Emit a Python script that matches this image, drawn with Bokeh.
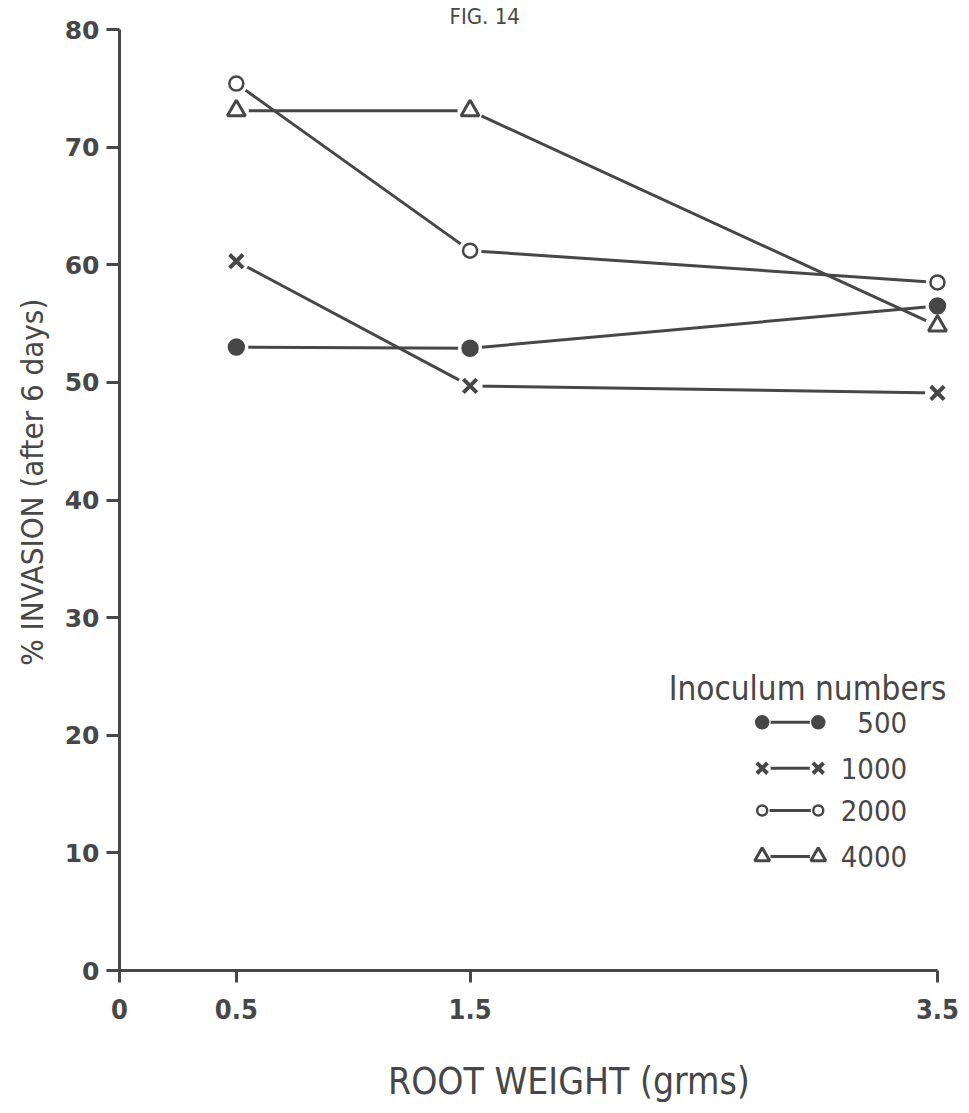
from bokeh.plotting import figure
from bokeh.models import Range1d, FixedTicker, Label, Title, LinearAxis
from bokeh.embed import file_html
from bokeh.resources import INLINE

# Root weight (grms) at which invasion was measured
root_weight = [0.5, 1.5, 3.5]

# % invasion after 6 days for each inoculum number
inv_500 = [53.0, 52.9, 56.5]
inv_1000 = [60.3, 49.7, 49.1]
inv_2000 = [75.4, 61.2, 58.5]
inv_4000 = [73.1, 73.1, 54.8]

inoculum_labels = ["500", "1000", "2000", "4000"]
y_ticks = [0, 10, 20, 30, 40, 50, 60, 70, 80]
x_ticks = [0, 0.5, 1.5, 3.5]
x_tick_labels = {0: "0", 0.5: "0.5", 1.5: "1.5", 3.5: "3.5"}

INK = "#474747"
FONT = "DejaVu Sans Condensed"
NBSP = "\u00a0"  # non-collapsing space, nudges centred axis titles

p = figure(width=969, height=1113, output_backend="svg", toolbar_location=None,
           x_range=Range1d(0, 3.62), y_range=Range1d(0, 80),
           min_border_left=119, min_border_right=4,
           min_border_top=29, min_border_bottom=143)
p.outline_line_color = None
p.xgrid.visible = False
p.ygrid.visible = False
p.background_fill_color = "white"

# axes
for ax in (p.xaxis[0], p.yaxis[0]):
    ax.axis_line_color = INK
    ax.axis_line_width = 3
    ax.major_tick_line_color = INK
    ax.major_tick_line_width = 3
    ax.major_tick_in = 0
    ax.minor_tick_line_color = None
    ax.major_label_text_color = INK

p.yaxis.ticker = FixedTicker(ticks=y_ticks)
p.yaxis.major_tick_out = 13
p.yaxis.major_label_text_font = "DejaVu Sans"
p.yaxis.major_label_text_font_style = "bold"
p.yaxis.major_label_text_font_size = "25px"
p.yaxis.major_label_standoff = 7
p.yaxis.axis_label = NBSP * 4 + "% INVASION (after 6 days)"
p.yaxis.axis_label_text_font = FONT
p.yaxis.axis_label_text_font_style = "normal"
p.yaxis.axis_label_text_font_size = "31px"
p.yaxis.axis_label_text_color = INK
p.yaxis.axis_label_standoff = 12

p.xaxis.ticker = FixedTicker(ticks=x_ticks)
p.xaxis.bounds = (0, 3.5)
p.xaxis.major_label_overrides = x_tick_labels
p.xaxis.major_tick_out = 12
p.xaxis.major_label_text_font = FONT
p.xaxis.major_label_text_font_style = "bold"
p.xaxis.major_label_text_font_size = "27px"
p.xaxis.major_label_standoff = 16

# x-axis title carried by a bare axis stacked under the ticked one
title_axis = LinearAxis(ticker=FixedTicker(ticks=[]),
                        axis_line_color=None, major_tick_out=0,
                        major_tick_in=0, minor_tick_out=0, minor_tick_in=0,
                        axis_label=NBSP * 5 + "ROOT WEIGHT (grms)",
                        axis_label_text_font=FONT,
                        axis_label_text_font_size="37px",
                        axis_label_text_font_style="normal",
                        axis_label_text_color=INK,
                        axis_label_standoff=38)
p.add_layout(title_axis, "below")

# figure number at the top edge
p.add_layout(Title(text="FIG. 14", align="left", offset=330,
                   text_font=FONT, text_font_size="22px",
                   text_font_style="normal", text_color=INK, standoff=2),
             "above")

# series: (values, marker, filled, size, stroke)
series = [
    (inv_500, "circle", True, 15, 2.5),
    (inv_1000, "x", False, 19, 4),
    (inv_2000, "circle", False, 14, 2.5),
    (inv_4000, "triangle", False, 18, 3),
]

for vals, _, _, _, _ in series:
    p.line(root_weight, vals, line_color=INK, line_width=3)

# white halos leave a small gap where lines meet the symbols
for vals, _, _, size, _ in series:
    p.scatter(root_weight, vals, marker="circle", size=min(size, 16) + 9,
              fill_color="white", line_color=None)

for vals, marker, filled, size, lw in series:
    p.scatter(root_weight, vals, marker=marker, size=size,
              fill_color=INK if filled else "white",
              line_color=INK, line_width=lw)

# key
key_x0, key_x1, key_text_x = 2.75, 2.99, 3.37
key_rows = [21.1, 17.2, 13.6, 9.7]
key_sizes = [12, 15, 10, 15]
p.add_layout(Label(x=2.35, y=24.0, text="Inoculum numbers", text_font=FONT,
                   text_font_size="33px", text_color=INK,
                   text_baseline="alphabetic"))
for (vals, marker, filled, _, lw), ky, ks, lab in zip(series, key_rows,
                                                      key_sizes, inoculum_labels):
    p.line([key_x0, key_x1], [ky, ky], line_color=INK, line_width=3)
    p.scatter([key_x0, key_x1], [ky, ky], marker="circle",
              size=min(ks, 12) + 5, fill_color="white", line_color=None)
    p.scatter([key_x0, key_x1], [ky, ky], marker=marker, size=ks,
              fill_color=INK if filled else "white",
              line_color=INK, line_width=lw)
    p.add_layout(Label(x=key_text_x, y=ky, text=lab, text_font=FONT,
                       text_font_size="29px", text_color=INK,
                       text_align="right", text_baseline="middle"))

open("out.html", "w").write(file_html(p, INLINE))
